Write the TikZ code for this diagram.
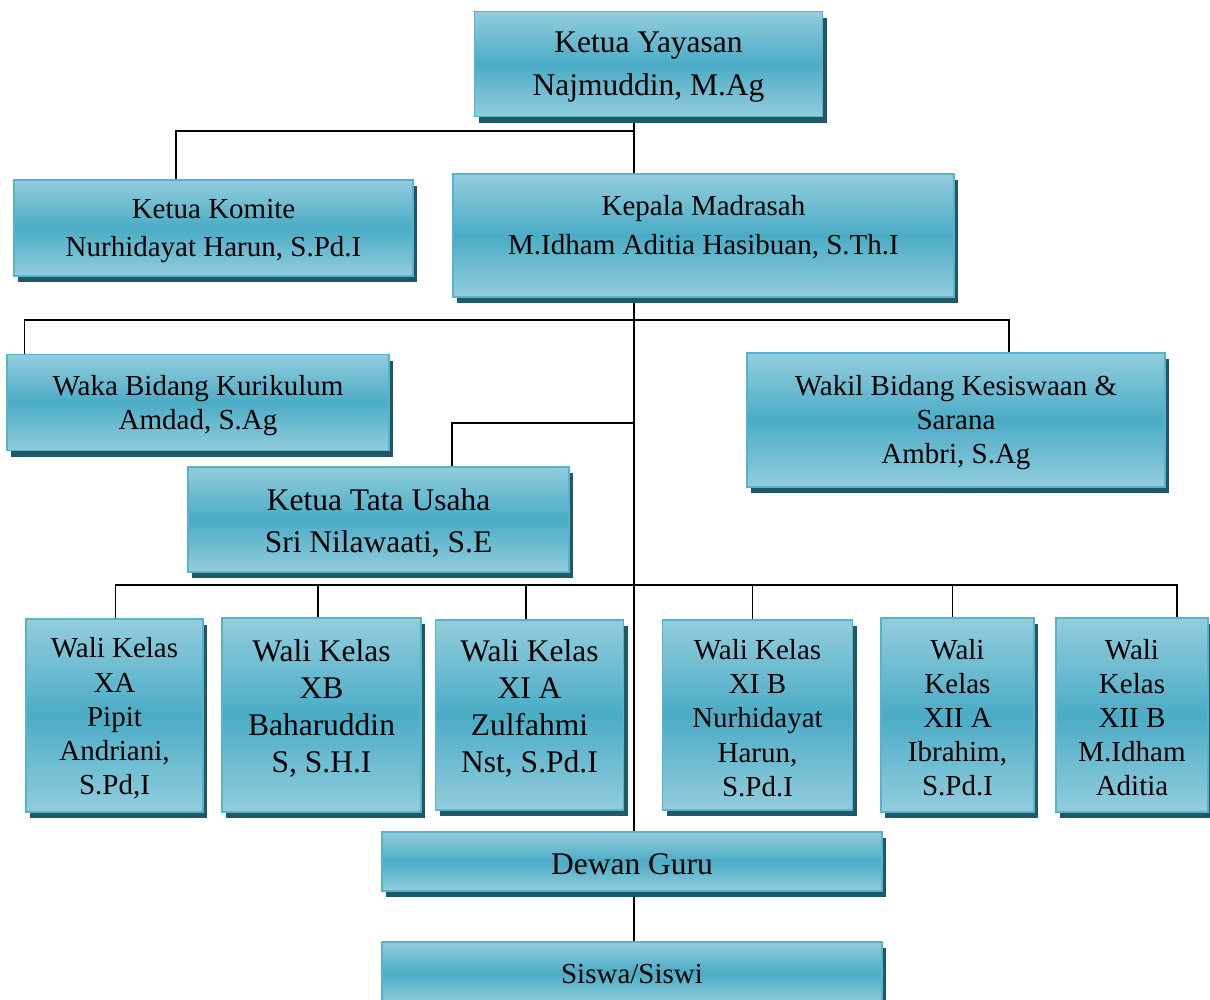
\documentclass[tikz,border=0pt]{standalone}
\usepackage{fontspec}
\setmainfont{Liberation Serif}
\usetikzlibrary{shadows,backgrounds}
\definecolor{lightc}{HTML}{93CDDD}
\definecolor{midc}{HTML}{4BACC6}
\definecolor{edgec}{HTML}{55B3CB}
\definecolor{shadc}{HTML}{215868}
\begin{document}
\begin{tikzpicture}[x=1pt,y=-1pt,
  orgbox/.style={rectangle, inner sep=0pt, outer sep=0pt, draw=edgec, line width=1.8pt,
    top color=lightc, bottom color=lightc, middle color=midc,
    drop shadow={shadow xshift=4pt,shadow yshift=-6pt,fill=shadc,opacity=1}},
  lbl/.style={align=center, inner sep=0pt, text=black, yshift=-3pt},
  fa/.style={font={\fontsize{31.5}{43}\selectfont}},
  conn/.style={draw=black, line width=1.6pt}]
\useasboundingbox (0,0) rectangle (1210,999);
\clip (0,0) rectangle (1210,999);

% boxes
\node[orgbox, minimum width=348pt, minimum height=105pt] (yay) at (648.5,64) {};
\node[orgbox, minimum width=399pt, minimum height=96pt] (kom) at (213.5,228) {};
\node[orgbox, minimum width=501pt, minimum height=123pt] (kep) at (703.5,235.5) {};
\node[orgbox, minimum width=382pt, minimum height=96pt] (waka) at (198,402.5) {};
\node[orgbox, minimum width=418pt, minimum height=134pt] (wakil) at (956,420) {};
\node[orgbox, minimum width=381pt, minimum height=105pt] (tu) at (378.5,519.5) {};
\node[orgbox, minimum width=177pt, minimum height=193pt] (xa) at (114.5,715.5) {};
\node[orgbox, minimum width=199pt, minimum height=194pt] (xb) at (321.5,715) {};
\node[orgbox, minimum width=188pt, minimum height=190pt] (xia) at (529.5,715) {};
\node[orgbox, minimum width=190pt, minimum height=190pt] (xib) at (757.5,715) {};
\node[orgbox, minimum width=153pt, minimum height=194pt] (xiia) at (957.5,715) {};
\node[orgbox, minimum width=152pt, minimum height=194pt] (xiib) at (1132,715) {};
\node[orgbox, minimum width=500pt, minimum height=59pt] (dg) at (632,861.5) {};
\node[orgbox, minimum width=500pt, minimum height=62pt] (sis) at (632,973) {};

% texts
\node[lbl, fa] (yayT) at (yay.center) {Ketua Yayasan\\Najmuddin, M.Ag};
\node[lbl, font={\fontsize{29}{38.5}\selectfont}] (komT) at (kom.center) {Ketua Komite\\Nurhidayat Harun, S.Pd.I};
\node[lbl, font={\fontsize{29}{39}\selectfont}] (kepT) at ([yshift=11.5pt]kep.center) {Kepala Madrasah\\M.Idham Aditia Hasibuan, S.Th.I};
\node[lbl, font={\fontsize{29}{34}\selectfont}] (wakaT) at (waka.center) {Waka Bidang Kurikulum\\Amdad, S.Ag};
\node[lbl, font={\fontsize{29}{34}\selectfont}] (wakilT) at (wakil.center) {Wakil Bidang Kesiswaan \&\\Sarana\\Ambri, S.Ag};
\node[lbl, font={\fontsize{31.5}{42}\selectfont}] (tuT) at (tu.center) {Ketua Tata Usaha\\Sri Nilawaati, S.E};
\node[lbl, font={\fontsize{29}{34.25}\selectfont}] (xaT) at (xa.center) {Wali Kelas\\XA\\Pipit\\Andriani,\\S.Pd,I};
\node[lbl, font={\fontsize{31.5}{37}\selectfont}] (xbT) at ([yshift=10pt]xb.center) {Wali Kelas\\XB\\Baharuddin\\S, S.H.I};
\node[lbl, font={\fontsize{31.5}{37}\selectfont}] (xiaT) at ([yshift=10pt]xia.center) {Wali Kelas\\XI A\\Zulfahmi\\Nst, S.Pd.I};
\node[lbl, font={\fontsize{29}{34.25}\selectfont}] (xibT) at (xib.center) {Wali Kelas\\XI B\\Nurhidayat\\Harun,\\S.Pd.I};
\node[lbl, font={\fontsize{29}{34}\selectfont}] (xiiaT) at (xiia.center) {Wali\\Kelas\\XII A\\Ibrahim,\\S.Pd.I};
\node[lbl, font={\fontsize{29}{34}\selectfont}] (xiibT) at (xiib.center) {Wali\\Kelas\\XII B\\M.Idham\\Aditia};
\node[lbl, fa] (dgT) at (dg.center) {Dewan Guru};
\node[lbl, font={\fontsize{29}{34}\selectfont}] (sisT) at ([yshift=2pt]sis.center) {Siswa/Siswi};

% trunk junctions
\coordinate (j1) at (634,131);
\coordinate (j2) at (634,320);
\coordinate (j3) at (634,423);
\coordinate (j4) at (634,585);

\begin{scope}[on background layer]
\draw[conn] (yay.south -| j1) -- (kep.north -| j1);
\draw[conn] (j1) -| ([xshift=-37.5pt]kom.north);
\draw[conn] (kep.south -| j1) -- (dg.north -| j1);
\draw[conn] (j2) -| ([xshift=17.5pt]waka.north west);
\draw[conn] (j2) -| ([xshift=53pt]wakil.north);
\draw[conn] (j3) -| ([xshift=73.5pt]tu.north);
\draw[conn] (j4) -| ([xshift=1pt]xa.north);
\draw[conn] (j4) -| ([xshift=-3.5pt]xb.north);
\draw[conn] (j4) -| ([xshift=-3.5pt]xia.north);
\draw[conn] (j4) -| ([xshift=-5pt]xib.north);
\draw[conn] (j4) -| ([xshift=-5pt]xiia.north);
\draw[conn] (j4) -| ([xshift=45pt]xiib.north);
\draw[conn] (dg.south -| j1) -- (sis.north -| j1);
\end{scope}
\end{tikzpicture}
\end{document}
